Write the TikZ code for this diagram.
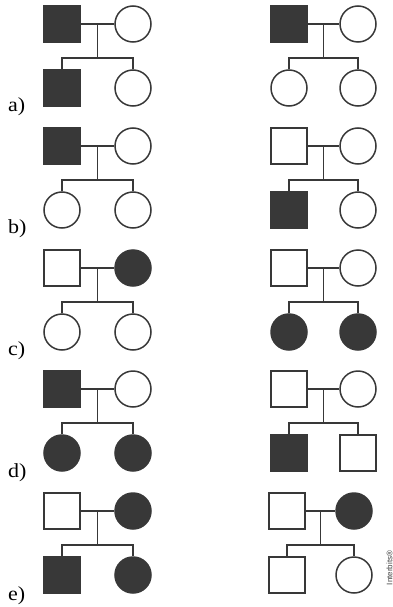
\documentclass[tikz,border=0pt]{standalone}
\usepackage{fontspec}
\setmainfont{Liberation Serif}
\newfontfamily\markfont{Liberation Sans}
\usepackage{tikz}
\usetikzlibrary{calc}
\definecolor{pedline}{HTML}{383838}
\definecolor{pedfill}{HTML}{383838}
\tikzset{
  male/.style={rectangle, draw=pedline, line width=1.5pt, minimum size=36pt, inner sep=0pt, fill=white},
  fem/.style={circle, draw=pedline, line width=1.5pt, minimum size=36pt, inner sep=0pt, fill=white},
  aff/.style={fill=pedfill},
  lnk/.style={draw=pedline, line width=1.5pt},
  lab/.style={anchor=base west, font=\fontsize{20}{22}\selectfont, inner sep=0pt, xscale=1.1},
}

\begin{document}
\begin{tikzpicture}[x=1pt,y=-1pt]
  \useasboundingbox (0,0) rectangle (393,607);
  % --- (a) ---
  \node[male,aff] (aL-f) at (62,24) {};
  \node[fem]      (aL-m) at (133,24) {};
  \node[male,aff] (aL-c1) at (62,88) {};
  \node[fem]      (aL-c2) at (133,88) {};
  \node[male,aff] (aR-f) at (289,24) {};
  \node[fem]      (aR-m) at (358,24) {};
  \node[fem]      (aR-c1) at (289,88) {};
  \node[fem]      (aR-c2) at (358,88) {};
  \node[lab] (la) at (8,112) {a)};
  % --- (b) ---
  \node[male,aff] (bL-f) at (62,146) {};
  \node[fem]      (bL-m) at (133,146) {};
  \node[fem]      (bL-c1) at (62,210) {};
  \node[fem]      (bL-c2) at (133,210) {};
  \node[male]     (bR-f) at (289,146) {};
  \node[fem]      (bR-m) at (358,146) {};
  \node[male,aff] (bR-c1) at (289,210) {};
  \node[fem]      (bR-c2) at (358,210) {};
  \node[lab] (lb) at (8,233) {b)};
  % --- (c) ---
  \node[male]     (cL-f) at (62,268) {};
  \node[fem,aff]  (cL-m) at (133,268) {};
  \node[fem]      (cL-c1) at (62,332) {};
  \node[fem]      (cL-c2) at (133,332) {};
  \node[male]     (cR-f) at (289,268) {};
  \node[fem]      (cR-m) at (358,268) {};
  \node[fem,aff]  (cR-c1) at (289,332) {};
  \node[fem,aff]  (cR-c2) at (358,332) {};
  \node[lab] (lc) at (8,355) {c)};
  % --- (d) ---
  \node[male,aff] (dL-f) at (62,389) {};
  \node[fem]      (dL-m) at (133,389) {};
  \node[fem,aff]  (dL-c1) at (62,453) {};
  \node[fem,aff]  (dL-c2) at (133,453) {};
  \node[male]     (dR-f) at (289,389) {};
  \node[fem]      (dR-m) at (358,389) {};
  \node[male,aff] (dR-c1) at (289,453) {};
  \node[male]     (dR-c2) at (358,453) {};
  \node[lab] (ld) at (8,477) {d)};
  % --- (e) ---
  \node[male]     (eL-f) at (62,511) {};
  \node[fem,aff]  (eL-m) at (133,511) {};
  \node[male,aff] (eL-c1) at (62,575) {};
  \node[fem,aff]  (eL-c2) at (133,575) {};
  \node[male]     (eR-f) at (287,511) {};
  \node[fem,aff]  (eR-m) at (354,511) {};
  \node[male]     (eR-c1) at (287,575) {};
  \node[fem]      (eR-c2) at (354,575) {};
  \node[lab] (le) at (8,600) {e)};
  % --- mating and sibship lines ---
  \foreach \p in {aL,aR,bL,bR,cL,cR,dL,dR,eL,eR}{
    \draw[lnk] (\p-f.east) -- (\p-m.west);
    \coordinate (\p-j) at ($(\p-f)!0.5!(\p-m)$);
    \coordinate (\p-s) at ($(\p-j)+(0,34)$);
    \draw[lnk] (\p-j) -- (\p-s);
    \draw[lnk] (\p-c1.north) |- (\p-s) -| (\p-c2.north);
  }
  \node[rotate=90, font=\markfont\fontsize{8}{9}\selectfont, text=black!75, inner sep=0pt] (mark) at (389.5,568) {Interbits®};
\end{tikzpicture}
\end{document}
